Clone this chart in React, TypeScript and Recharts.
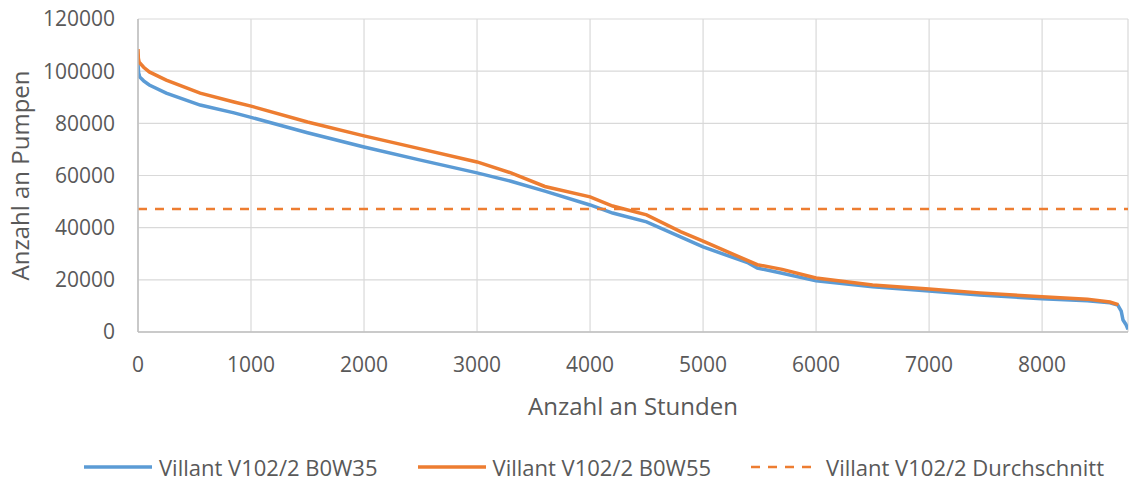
import { LineChart, Line, XAxis, YAxis, CartesianGrid, Legend } from 'recharts';

// Jahresdauerlinie: Anzahl Pumpen über sortierte Stunden
const HOURS_B0W35 = [0, 5, 15, 50, 100, 250, 550, 850, 1000, 1500, 2000, 2500, 3000, 3300, 3600, 4000, 4200, 4500, 4800, 5000, 5400, 5480, 5700, 6000, 6500, 7000, 7450, 8000, 8400, 8600, 8670, 8700, 8716, 8740, 8760];
const PUMPS_B0W35 = [103000, 99500, 97800, 96300, 94700, 91600, 87000, 84000, 82300, 76400, 70900, 65900, 61000, 57800, 54000, 48700, 45600, 42200, 36500, 32600, 26500, 24500, 22500, 19600, 17300, 15700, 14200, 12700, 12000, 11200, 10300, 8000, 4600, 3000, 1000];

const HOURS_B0W55 = [0, 3, 10, 50, 100, 250, 550, 850, 1000, 1500, 2000, 2500, 3000, 3300, 3600, 4000, 4200, 4500, 4800, 5000, 5480, 5700, 6000, 6500, 7000, 7450, 8000, 8400, 8600, 8675];
const PUMPS_B0W55 = [108500, 105000, 103500, 101500, 99700, 96600, 91600, 88200, 86600, 80500, 75200, 70200, 65200, 61000, 55800, 51800, 48300, 44900, 38500, 34800, 25800, 24000, 20700, 18000, 16500, 15000, 13500, 12600, 11500, 10500];

const AVG_HOURS = [0, 8760];
const AVG_PUMPS = [47200, 47200];

const X_TICKS = [0, 1000, 2000, 3000, 4000, 5000, 6000, 7000, 8000];
const Y_TICKS = [0, 20000, 40000, 60000, 80000, 100000, 120000];

const FONT = "'Open Sans', sans-serif";
const TEXT = '#595959';
const BLUE = '#5B9BD5';
const ORANGE = '#ED7D31';

const toPoints = (hs: number[], vs: number[]) => hs.map((h, i) => ({ h, v: vs[i] }));

const SERIES = [
    { name: 'Villant V102/2 B0W35', color: BLUE, dash: undefined as string | undefined },
    { name: 'Villant V102/2 B0W55', color: ORANGE, dash: undefined as string | undefined },
    { name: 'Villant V102/2 Durchschnitt', color: ORANGE, dash: '9 8' },
];

function LegendBox() {
    return (
        <div style={{ display: 'flex', alignItems: 'center', height: 24, paddingLeft: 84, fontFamily: FONT, fontSize: 22, lineHeight: '24px', color: TEXT }}>
            {SERIES.map((s, i) => (
                <div key={s.name} style={{ display: 'flex', alignItems: 'center', marginRight: i < 2 ? 40 : 0 }}>
                    <svg width={68} height={10} style={{ marginRight: 7 }}>
                        <line x1={0} y1={5} x2={68} y2={5} stroke={s.color} strokeWidth={s.dash ? 2.5 : 3.5} strokeDasharray={s.dash} />
                    </svg>
                    <span style={{ whiteSpace: 'nowrap' }}>{s.name}</span>
                </div>
            ))}
        </div>
    );
}

export default function App() {
    const data35 = toPoints(HOURS_B0W35, PUMPS_B0W35);
    const data55 = toPoints(HOURS_B0W55, PUMPS_B0W55);
    const avg = toPoints(AVG_HOURS, AVG_PUMPS);

    return (
        <div style={{ position: 'absolute', left: 0, top: 0, background: '#fff' }}>
            <LineChart width={1129} height={481} margin={{ top: 19, right: 1, left: 0, bottom: 83 }}>
                <CartesianGrid stroke="#d9d9d9" strokeWidth={1.2} />
                <XAxis
                    dataKey="h" type="number" domain={[0, 8760]} ticks={X_TICKS} allowDataOverflow
                    height={66} tickLine={false} tickSize={6} tickMargin={19}
                    axisLine={{ stroke: '#bfbfbf', strokeWidth: 1.5 }}
                    tick={{ fill: TEXT, fontSize: 21, fontFamily: FONT }}
                    label={{ value: 'Anzahl an Stunden', position: 'bottom', offset: 0, fill: TEXT, fontSize: 24, fontFamily: FONT }}
                />
                <YAxis
                    type="number" domain={[0, 120000]} ticks={Y_TICKS}
                    width={138} tickLine={false} tickSize={6} tickMargin={17}
                    axisLine={{ stroke: '#bfbfbf', strokeWidth: 1.5 }}
                    tick={{ fill: TEXT, fontSize: 21, fontFamily: FONT }}
                    label={{ value: 'Anzahl an Pumpen', angle: -90, position: 'insideLeft', offset: 20, fill: TEXT, fontSize: 24, fontFamily: FONT, style: { textAnchor: 'middle' } }}
                />
                <Legend layout="horizontal" verticalAlign="middle" content={() => <LegendBox />}
                    wrapperStyle={{ top: 455, left: 0, width: 1129, height: 24 }} />
                <Line data={data35} dataKey="v" name={SERIES[0].name} type="linear" stroke={BLUE} strokeWidth={3.5} dot={false} activeDot={false} isAnimationActive={false} />
                <Line data={data55} dataKey="v" name={SERIES[1].name} type="linear" stroke={ORANGE} strokeWidth={3.5} dot={false} activeDot={false} isAnimationActive={false} />
                <Line data={avg} dataKey="v" name={SERIES[2].name} type="linear" stroke={ORANGE} strokeWidth={2.5} strokeDasharray="9 8" dot={false} activeDot={false} isAnimationActive={false} />
            </LineChart>
        </div>
    );
}
